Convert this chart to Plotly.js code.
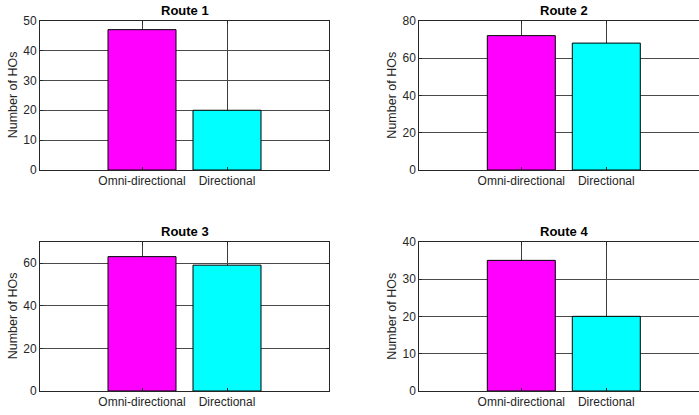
<!DOCTYPE html>
<html>
<head>
<meta charset="utf-8">
<script src="https://cdn.plot.ly/plotly-3.0.1.min.js"></script>
<style>html,body{margin:0;padding:0;background:#fff;}#chart{width:699px;height:415px;}</style>
</head>
<body>
<div id="chart"></div>
<script>
const categories = ["Omni-directional", "Directional"];
const categoryPositions = [1, 2];
const routeTitles = ["Route 1", "Route 2", "Route 3", "Route 4"];
const route1 = [47, 20];
const route2 = [72, 68];
const route3 = [63, 59];
const route4 = [35, 20];
const yMax = [50, 80, 70, 40];
const yStep = [10, 20, 20, 10];
const yLabel = "Number of HOs";
const barColors = ["#ff00ff", "#00ffff"];

const W = 699, H = 415;
const routes = [route1, route2, route3, route4];
const font = "Liberation Sans, Arial, Helvetica, sans-serif";
const textColor = "#262626";

// axes boxes in pixels: [left, right, top, bottom]
const boxes = [
  [40, 329, 20.7, 170],
  [419.3, 699, 20.7, 170],
  [40, 329, 241.7, 391],
  [419.3, 699, 241.7, 391]
];
const unit = 85;
const x0 = -0.2;

const data = [];
const layout = {
  width: W, height: H,
  margin: {l: 0, r: 0, t: 0, b: 0},
  paper_bgcolor: "#fff", plot_bgcolor: "#fff",
  showlegend: false,
  font: {family: font, size: 12, color: textColor},
  annotations: [],
  bargap: 0.2
};

routes.forEach((vals, i) => {
  const n = i + 1;
  const xa = n === 1 ? "x" : "x" + n;
  const ya = n === 1 ? "y" : "y" + n;
  data.push({
    type: "bar",
    x: categoryPositions,
    y: vals,
    width: 0.8,
    xaxis: xa, yaxis: ya,
    marker: {color: barColors, line: {color: "#000", width: 1}},
    hoverinfo: "skip"
  });
  const b = boxes[i];
  const x1 = x0 + (b[1] - b[0]) / unit;
  const isRight = (i % 2) === 1;
  layout["xaxis" + (n === 1 ? "" : n)] = {
    domain: [b[0] / W, b[1] / W],
    anchor: ya,
    range: [x0, x1],
    tickmode: "array",
    tickvals: categoryPositions,
    ticktext: categories,
    ticks: "inside", ticklen: 3, tickcolor: textColor,
    showgrid: true, gridcolor: "#3c3c3c", gridwidth: 1,
    showline: true, linecolor: textColor, linewidth: 1,
    mirror: "ticks",
    zeroline: false,
    tickfont: {family: font, size: 12, color: textColor},
    fixedrange: true
  };
  layout["yaxis" + (n === 1 ? "" : n)] = {
    domain: [(H - b[3]) / H, (H - b[2]) / H],
    anchor: xa,
    range: [0, yMax[i]],
    dtick: yStep[i], tick0: 0,
    ticks: "inside", ticklen: 3, tickcolor: textColor,
    showgrid: true, gridcolor: "#4a4a4a", gridwidth: 1,
    showline: true, linecolor: textColor, linewidth: 1,
    mirror: isRight ? false : "ticks",
    zeroline: false,
    tickfont: {family: font, size: 12, color: textColor},
    fixedrange: true
  };
  const fullRight = b[0] + (3.4 * unit);
  layout.annotations.push({
    text: "<b>" + routeTitles[i] + "</b>",
    xref: "paper", yref: "paper",
    x: ((b[0] + fullRight) / 2) / W,
    y: (H - (b[2] - 10)) / H,
    xanchor: "center", yanchor: "middle",
    showarrow: false,
    font: {family: font, size: 13, color: "#000"}
  });
  layout.annotations.push({
    text: yLabel,
    xref: "paper", yref: "paper",
    x: (b[0] - 27) / W,
    y: (H - (b[2] + b[3]) / 2) / H,
    xanchor: "center", yanchor: "middle",
    textangle: -90,
    showarrow: false,
    font: {family: font, size: 12.5, color: textColor}
  });
});

Plotly.newPlot("chart", data, layout, {displayModeBar: false, staticPlot: true});
</script>
</body>
</html>
